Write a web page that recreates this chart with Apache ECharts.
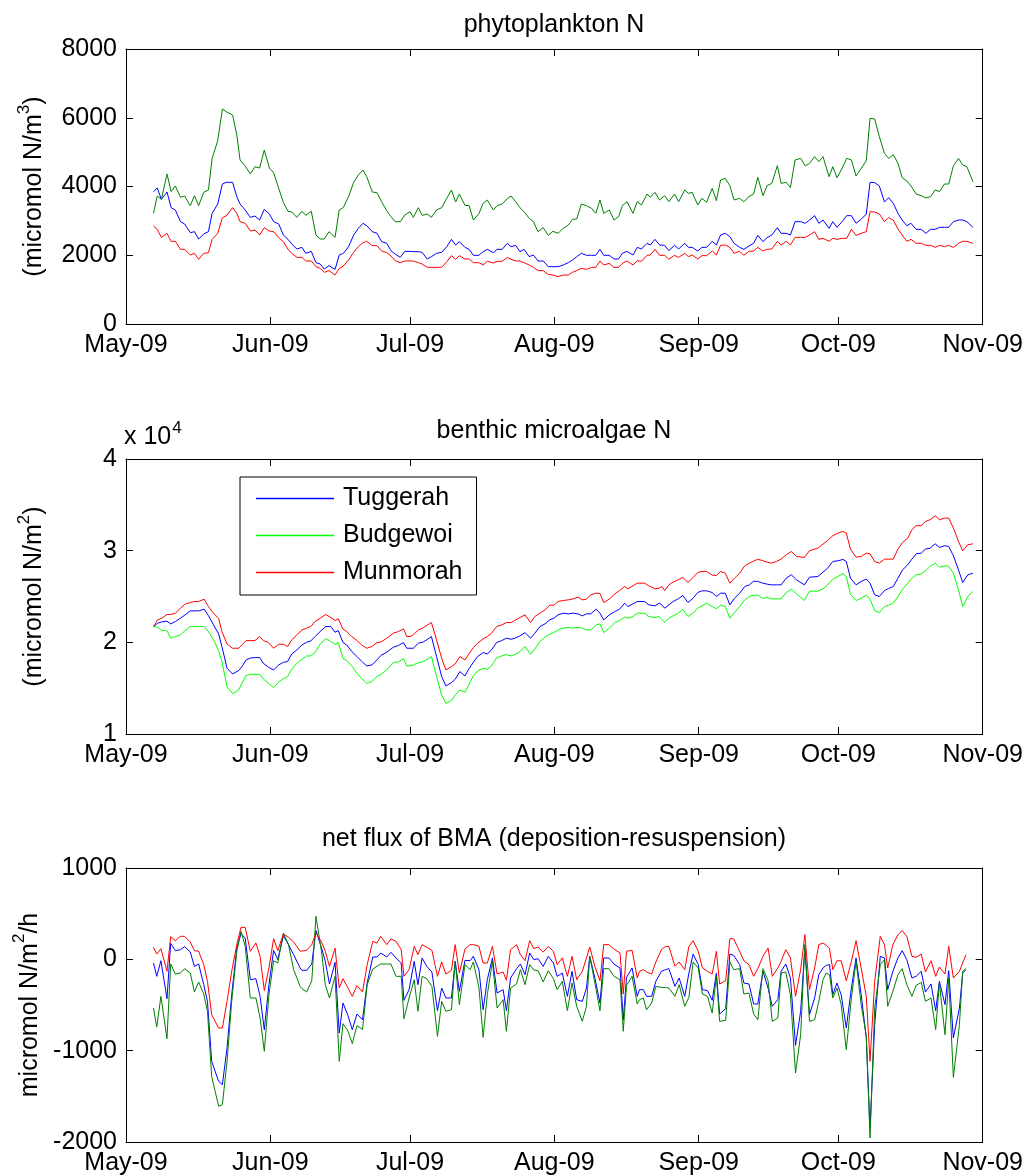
<!DOCTYPE html>
<html>
<head>
<meta charset="utf-8">
<script src="https://cdn.jsdelivr.net/npm/echarts@6/dist/echarts.min.js"></script>
<style>
html,body{margin:0;padding:0;background:#fff;}
#chart{width:1026px;height:1176px;}
</style>
</head>
<body>
<div id="chart"></div>
<script>
// Time axis: days counted from 1 May 2009 (0 = 1 May, 184 = 1 Nov).
const MONTH_DAYS = [0, 31, 61, 92, 123, 153, 184];
const MONTH_LABELS = ['May-09', 'Jun-09', 'Jul-09', 'Aug-09', 'Sep-09', 'Oct-09', 'Nov-09'];
const SITES = ['Tuggerah', 'Budgewoi', 'Munmorah'];

// ---- phytoplankton N (micromol N/m3) ----
const PHYTO_DAYS = [
  5.9,6.7,7.6,8.8,9.7,10.6,11.7,12.6,13.8,14.7,15.6,16.7,17.7,18.5,19.7,20.7,21.5,22.9,23.8,24.5,
  25.6,26.7,27.7,28.7,29.7,30.8,31.7,32.8,33.8,34.8,35.6,36.7,37.8,38.6,39.8,40.8,41.7,42.6,43.6,44.9,
  45.8,46.7,47.8,48.9,49.9,50.9,51.7,52.9,53.9,54.9,56.0,56.9,57.8,58.9,59.9,61.0,
  61.7,62.8,63.6,64.7,65.6,66.7,67.8,68.9,69.9,70.8,71.6,72.8,73.7,74.6,75.8,76.7,77.6,78.9,79.7,80.8,
  81.9,82.7,83.7,84.6,85.5,86.6,87.5,88.5,89.6,90.7,91.7,92.8,93.9,95.0,95.9,96.8,97.8,98.9,100.0,100.9,
  101.8,102.6,103.8,104.8,105.8,106.6,107.6,108.9,109.8,110.7,111.9,112.6,113.6,114.6,115.7,116.6,117.8,118.7,120.0,120.8,
  121.6,122.8,
  123.7,124.7,125.9,126.8,127.7,128.7,129.7,130.6,131.8,132.7,133.8,134.8,135.7,136.8,137.7,138.7,139.9,140.7,141.8,142.7,
  143.7,144.9,145.9,146.8,147.9,148.8,149.7,151.0,151.8,152.7,153.8,154.8,155.8,156.8,157.9,159.0,159.8,160.8,161.8,162.9,
  163.8,164.8,165.8,166.7,167.7,168.6,169.7,170.8,171.8,172.8,173.8,174.7,175.8,176.7,177.7,178.8,179.7,180.6,181.9
];
const PHYTO_TUGGERAH = [
  3850,3956,3627,3840,3384,3316,2977,2909,2657,2686,2473,2618,2686,3219,3491,4073,4121,4121,3704,3491,
  3316,3103,3142,3025,3336,3200,2977,2909,2589,2463,2327,2182,2230,2056,2114,1784,1745,1600,1697,1590,
  2007,2056,2250,2589,2783,2929,2861,2686,2638,2395,2347,2133,2036,1939,2114,2114,
  2104,2104,2085,1891,1959,2056,2085,2250,2463,2298,2395,2230,2172,1998,1998,2104,2172,2075,2172,2172,
  2347,2250,2288,2104,2172,1959,2007,1833,1833,1668,1668,1668,1716,1784,1862,1959,2056,1998,1998,1998,
  2172,1998,1998,1891,1891,2056,2114,2007,2230,2182,2347,2298,2463,2298,2288,2133,2288,2182,2347,2230,
  2230,2124,
  2230,2230,2405,2298,2589,2638,2541,2347,2230,2172,2269,2347,2579,2395,2512,2589,2802,2638,2638,2589,
  2977,2977,2929,3025,3152,2929,3025,2783,2977,2812,2977,3152,3152,2929,3045,3200,4121,4112,4015,3549,
  3675,3510,3219,3025,2861,2929,2754,2754,2638,2754,2754,2812,2812,2812,2977,3025,3025,2977,2812
];
const PHYTO_BUDGEWOI = [
  3219,3724,3627,4364,3850,4015,3685,3724,3442,3733,3442,3830,3898,4819,5333,6255,6177,6080,5498,4771,
  4596,4364,4577,4538,5062,4538,4402,3947,3539,3278,3258,3103,3278,3161,3278,2589,2473,2473,2686,2521,
  3316,3394,3704,4121,4335,4480,4286,3840,3821,3559,3297,3122,2977,2977,3171,3268,
  3103,3384,3161,3200,3103,3316,3384,3656,3898,3549,3782,3452,3442,3025,3210,3510,3607,3316,3442,3491,
  3646,3724,3559,3384,3268,3074,2977,2686,2802,2579,2696,2638,2783,2880,3045,3055,3491,3442,3365,3219,
  3607,3219,3316,3025,3122,3442,3559,3219,3559,3462,3782,3685,3830,3607,3733,3559,3782,3559,3898,3801,
  3830,3462,
  3656,3539,3947,3588,4189,4238,4024,3607,3656,3559,3704,3782,4267,3733,4024,4092,4606,4092,4121,3966,
  4771,4819,4596,4674,4868,4722,4868,4286,4577,4257,4528,4819,4771,4305,4528,4752,5983,5964,5450,4965,
  4819,4926,4674,4257,4160,4015,3782,3733,3665,3704,3898,3850,4073,4073,4596,4819,4626,4577,4141
];
const PHYTO_MUNMORAH = [
  2851,2754,2521,2638,2405,2405,2172,2172,2007,2056,1881,2056,2075,2463,2638,3093,3142,3384,3219,2977,
  2929,2705,2735,2589,2802,2705,2686,2512,2395,2172,2056,1939,1939,1833,1833,1668,1619,1503,1552,1425,
  1619,1687,1862,2085,2250,2366,2405,2279,2279,2124,2075,1978,1842,1784,1833,1833,
  1833,1784,1745,1648,1648,1648,1648,1813,1988,1881,1988,1891,1891,1784,1784,1716,1823,1775,1823,1823,
  1939,1881,1833,1833,1784,1716,1648,1552,1552,1445,1425,1377,1425,1425,1503,1552,1619,1590,1648,1648,
  1833,1716,1765,1648,1648,1765,1833,1716,1842,1823,1998,2007,2172,1998,1998,1881,1998,1939,2056,1959,
  2007,1891,
  1988,1988,2124,2007,2288,2298,2230,2056,2114,1998,2114,2124,2230,2124,2172,2182,2405,2298,2405,2298,
  2521,2521,2521,2589,2686,2463,2492,2405,2492,2463,2492,2492,2754,2579,2638,2686,3268,3258,3200,2977,
  3093,3025,2764,2589,2405,2463,2347,2347,2288,2288,2230,2288,2250,2288,2230,2347,2405,2405,2347
];

// ---- benthic microalgae N (micromol N/m2) ----
const BMA_DAYS = [
  5.9,6.8,7.7,8.8,9.6,10.6,11.7,12.7,13.8,14.7,15.6,16.8,17.7,18.8,19.9,20.6,21.7,22.9,24.2,24.9,
  25.8,26.8,27.7,28.7,29.5,30.6,31.7,32.8,33.8,34.7,35.6,36.7,37.8,38.8,39.7,40.6,41.7,42.9,44.0,44.9,
  45.6,46.6,47.4,48.5,49.6,50.6,51.7,52.8,53.9,54.8,56.0,57.4,58.5,59.6,60.3,61.0,
  61.7,62.8,63.9,65.6,66.7,67.8,68.7,69.9,70.7,71.7,72.8,73.5,74.6,75.5,76.7,77.6,78.5,79.6,80.7,81.7,
  82.7,83.5,84.6,85.7,86.9,87.8,88.9,90.0,91.0,91.9,92.8,93.9,95.0,96.0,97.1,98.0,98.9,99.8,101.0,101.8,
  102.6,103.8,105.0,106.0,107.1,107.8,108.9,109.8,111.4,112.3,113.6,114.5,115.1,115.7,116.6,117.5,118.6,119.6,120.7,121.8,
  122.8,
  123.7,124.7,125.9,126.8,127.7,128.7,129.7,130.7,131.8,132.9,133.9,134.8,135.7,136.8,137.7,138.6,139.7,140.7,141.8,142.9,
  144.0,145.7,146.8,148.6,149.7,150.7,151.8,152.9,154.0,154.7,155.6,156.8,157.9,159.0,159.8,160.8,161.8,162.9,163.8,164.8,
  165.8,166.8,167.9,168.8,169.7,170.8,171.7,172.7,173.8,174.7,175.8,176.7,177.7,178.8,179.7,180.8,181.9
];
const BMA_TUGGERAH = [
  21722,22086,22231,22305,22013,22268,22632,22997,23433,23433,23433,23615,22923,21904,20921,19538,17170,16552,16916,17353,
  18081,18300,18336,18336,17717,17280,16989,17535,17826,17899,18737,19173,19720,20011,20157,20630,21176,21722,21722,21103,
  21285,19974,19720,18991,18445,17936,17426,17535,18081,18591,18919,19465,19647,19974,19356,19356,
  19355,19901,20047,20629,18445,16260,15241,15605,15969,16806,16333,16988,17826,18445,18882,18736,19173,19974,20192,20447,
  20338,20447,20702,21066,20447,20993,21722,22013,22450,22632,22996,23178,23105,23178,23105,22887,23105,23105,23615,23178,
  22450,22996,23360,23615,24270,23906,24198,24452,24452,24088,23979,24270,24088,23724,24088,24452,24744,25108,24343,24817,
  25436,
  25618,25618,25436,24999,25363,25363,24088,24817,25363,26091,26273,26673,26637,26455,26346,26273,26273,26273,27001,27365,
  26819,26273,27110,27183,27657,28093,28822,28894,29040,28822,27001,26273,26637,26892,26455,25181,24999,25654,25872,26091,
  27001,27911,28458,29077,29659,29732,30169,30278,30751,30351,30533,30460,29441,27911,26528,27365,27547
];
const BMA_BUDGEWOI = [
  21722,21649,21285,21285,20448,20630,20812,21285,21722,21722,21722,21722,21176,20266,19101,17899,15168,14404,14804,15532,
  16370,16516,16516,16516,16006,15532,15059,15678,16042,16261,17062,17717,18154,18518,18518,18882,19792,20411,20083,19792,
  19974,18263,18008,17426,16625,16042,15532,15715,16261,16516,16989,17790,17862,18227,17426,17426,
  17535,17789,17899,18445,16260,14258,13347,13639,14258,14804,14549,15241,16333,16879,17170,17061,17425,18299,18518,18663,
  18518,18663,18991,19537,18700,19282,20083,20557,20884,21066,21358,21540,21649,21540,21649,21540,21358,21358,21904,22013,
  21066,21540,22159,22377,22741,22632,22814,23178,23178,22814,22705,22814,22523,22159,22632,22887,23178,23615,22814,23178,
  23724,
  23979,24270,23906,23651,24052,23906,22632,23251,23906,24634,24999,25144,25144,24780,24926,24744,24744,24744,25436,25800,
  25290,24562,25581,25581,25836,26273,26892,27183,27511,27183,25253,24562,24817,25144,24707,23469,23251,23906,24052,24270,
  24999,25800,26455,27001,27365,27474,27802,28275,28640,28203,28348,28275,27547,25727,23906,24999,25545
];
const BMA_MUNMORAH = [
  21722,22450,22632,23033,23033,23179,23725,24162,24344,24453,24453,24708,23907,23179,22596,21176,19829,19356,19356,19720,
  20193,20193,20193,20630,20193,19974,19356,19792,19792,19538,20266,20812,21358,21540,21722,22268,22632,23033,22705,22378,
  22560,21431,21176,20630,20193,19720,19356,19538,19974,20047,20448,20994,21176,21467,20630,20630,
  20811,21358,21612,22159,20265,18263,16988,17352,17644,18445,18081,18627,19428,19901,20375,20629,20993,21722,21904,22159,
  22159,22377,22705,22996,22159,22814,23178,23542,24052,24052,24452,24562,24634,24744,24926,24634,24707,25181,25363,25327,
  24343,24707,25290,25654,26091,25836,26164,26455,26455,26164,25836,25909,26091,25654,26273,26564,26819,27074,26528,27074,
  27620,
  27729,27729,27329,27292,27729,27547,26455,27001,27547,28348,28640,28858,29077,28894,28749,28640,28822,29077,29550,29914,
  29368,29259,29987,30278,30715,31115,31625,31916,32099,31916,30169,29295,29368,29732,29659,28822,28640,29077,29077,29077,
  30169,30897,31370,32281,32718,32718,33191,33373,33810,33373,33555,33555,32463,31006,29987,30642,30751
];

// ---- net flux of BMA, deposition minus resuspension (micromol N/m2/h) ----
const FLUX_DAYS = [
  5.9,6.6,7.5,8.8,9.6,10.6,11.7,12.6,13.8,14.7,15.6,16.7,17.5,18.4,19.9,20.7,21.7,22.7,23.8,24.7,
  25.6,26.7,27.9,28.8,29.7,30.7,31.7,32.6,33.8,34.9,36.0,37.4,
  37.8,38.8,39.9,40.8,42.0,42.8,43.7,44.9,45.8,46.6,47.6,48.6,49.6,50.8,51.8,53.0,53.9,54.7,56.0,56.9,
  58.0,59.1,59.7,60.8,61.9,62.7,63.6,64.6,65.7,66.9,67.8,68.7,69.9,70.7,71.6,72.8,73.9,
  74.6,75.8,76.7,77.6,78.7,79.7,81.0,81.7,82.6,83.9,84.7,85.7,86.7,87.6,88.5,89.6,90.7,91.8,92.6,93.7,
  94.8,95.8,96.8,98.0,98.9,99.6,100.7,101.8,102.6,103.7,104.8,106.1,106.8,107.5,108.7,109.8,110.3,
  111.1,111.8,112.9,113.8,115.0,115.9,116.6,117.9,118.8,120.0,120.9,121.8,122.9,123.8,124.9,125.9,126.8,127.5,128.8,129.7,
  130.5,131.8,132.7,133.8,134.8,135.7,136.8,137.9,138.8,140.0,140.7,141.7,142.7,143.8,144.9,145.8,146.8,
  147.9,148.8,149.7,150.4,151.1,151.8,152.7,153.6,154.7,155.8,156.8,157.9,159.0,159.8,160.8,162.0,162.9,163.6,164.7,165.8,
  166.7,167.7,168.8,169.7,170.8,171.7,172.9,173.9,174.7,175.9,176.7,177.7,179.0,179.7,180.4
];
const FLUX_TUGGERAH = [
  -40,-186,-15,-431,175,95,106,139,80,-77,-51,-277,-460,-1117,-1336,-1372,-971,-387,124,281,
  234,-223,-212,-405,-770,-277,99,-4,259,161,51,-95,
  -120,-120,-51,314,124,-22,-270,-33,-807,-478,-606,-770,-599,-661,-259,26,26,69,26,77,
  15,-40,-449,-332,-22,-277,15,-77,-139,-562,-314,-423,-423,-22,-350,-11,-15,
  33,-113,-551,-223,15,-369,-332,-562,-204,-102,-51,-168,69,-4,7,-77,33,-40,-186,-150,
  -405,-131,-442,-460,-314,33,-204,-478,15,15,-51,-95,-661,-197,-95,-405,-332,
  -332,-405,-405,-241,-131,-113,-102,-296,-204,-405,-150,58,-58,-332,-343,-449,-150,-599,-540,58,
  44,-58,-259,-270,-489,-489,-131,-314,-515,-442,-131,-51,-204,-942,-569,124,-606,
  -423,-168,-95,-66,-58,-387,-259,-387,-752,-314,15,-387,-861,-1850,-715,33,15,-332,-131,15,
  95,-4,-204,-186,-131,-358,-270,-562,-241,-496,-124,-861,-533,-150,-113
];
const FLUX_BUDGEWOI = [
  -533,-741,-405,-869,-51,-161,-150,-102,-150,-358,-248,-380,-569,-1281,-1610,-1591,-1117,-460,88,307,
  142,-423,-423,-642,-1007,-387,-15,-40,288,161,-113,-296,
  -321,-358,-234,471,80,-277,-423,-186,-1117,-704,-777,-923,-726,-767,-277,-106,-77,-51,-51,-51,
  -186,-186,-650,-423,-223,-569,-186,-212,-296,-843,-460,-569,-551,-22,-496,-58,-113,
  -29,-307,-854,-387,-22,-533,-442,-788,-314,-270,-113,-277,-58,-117,-124,-248,-124,-212,-332,-241,
  -562,-259,-515,-679,-515,33,-259,-562,-102,-102,-186,-223,-788,-285,-186,-489,-442,
  -423,-551,-478,-296,-307,-310,-314,-405,-277,-515,-416,-29,-95,-380,-405,-588,-186,-679,-668,-29,
  -113,-102,-380,-369,-599,-661,-102,-234,-679,-642,-150,-139,-387,-1245,-825,161,-679,
  -661,-460,-223,-150,-168,-423,-314,-496,-989,-423,-22,-496,-843,-1956,-533,-58,-4,-515,-350,-168,
  -102,-277,-405,-285,-252,-460,-423,-770,-259,-825,-204,-1292,-715,-131,-102
];
const FLUX_MUNMORAH = [
  131,58,117,-131,248,204,252,252,190,95,88,-58,-241,-606,-752,-752,-460,-131,161,350,
  350,88,179,33,-343,-95,226,95,277,241,190,88,
  77,99,161,288,190,88,-77,124,-314,-212,-307,-405,-288,-358,-58,197,179,252,161,223,
  197,106,-186,-113,142,51,161,131,99,-186,-29,-161,-120,161,-150,113,161,
  161,142,-40,-40,142,-161,-139,-230,106,161,51,-15,204,117,135,80,142,88,-58,15,
  -186,33,-223,-131,15,135,-77,-234,161,161,113,69,-380,88,99,-204,-131,
  -113,-139,-161,-29,106,142,142,-77,-29,-113,142,204,88,-95,-131,-161,88,-270,-234,226,
  226,88,-15,-58,-186,-102,33,124,-186,-95,-22,106,15,-405,-113,270,-332,
  -95,161,179,153,117,-113,-15,-15,-234,-22,204,-95,-405,-1117,-241,252,161,-95,161,270,
  314,252,33,22,58,-139,-15,-186,-84,-161,142,-204,-131,-40,51
];

const FONT = '"Liberation Sans", Arial, Helvetica, sans-serif';
const FS = 25;
const BLACK = '#000';

const pairs = (days, vals) => days.map((d, i) => [d, vals[i]]);

const grids = [
  { left: 126, top: 49, width: 857, height: 275 },
  { left: 126, top: 459, width: 857, height: 275 },
  { left: 126, top: 868, width: 857, height: 274 }
];

const frameLine = { show: true, onZero: false, lineStyle: { color: BLACK, width: 1 } };
const innerTick = { show: true, inside: true, length: 7, lineStyle: { color: BLACK, width: 1 } };

function makeXAxes(gi) {
  const base = {
    type: 'value', gridIndex: gi, min: 0, max: 184,
    axisLine: frameLine,
    axisTick: Object.assign({}, innerTick, { customValues: MONTH_DAYS }),
    splitLine: { show: false }
  };
  return [
    Object.assign({}, base, {
      position: 'bottom',
      axisLabel: {
        show: true, customValues: MONTH_DAYS,
        formatter: v => MONTH_LABELS[MONTH_DAYS.indexOf(v)],
        fontSize: FS, fontFamily: FONT, color: BLACK, margin: 9
      }
    }),
    Object.assign({}, base, { position: 'top', axisLabel: { show: false } })
  ];
}

const nameRich = {
  t: { fontSize: FS, fontFamily: FONT, color: BLACK },
  s: { fontSize: 17, fontFamily: FONT, color: BLACK, padding: [0, 0, 20, 0] }
};

function makeYAxes(gi, min, max, interval, fmt, name) {
  const base = {
    type: 'value', gridIndex: gi, min: min, max: max, interval: interval,
    axisLine: frameLine, axisTick: innerTick, splitLine: { show: false }
  };
  return [
    Object.assign({}, base, {
      position: 'left',
      axisLabel: { fontSize: FS, fontFamily: FONT, color: BLACK, margin: 9, formatter: fmt },
      name: name, nameLocation: 'middle', nameRotate: 90, nameGap: 73,
      nameTextStyle: { fontSize: FS, fontFamily: FONT, color: BLACK, rich: nameRich }
    }),
    Object.assign({}, base, { position: 'right', axisLabel: { show: false } })
  ];
}

const xAxes = [].concat(makeXAxes(0), makeXAxes(1), makeXAxes(2));
const yAxes = [].concat(
  makeYAxes(0, 0, 8000, 2000, v => String(v), '{t|(micromol N/m}{s|3}{t|)}'),
  makeYAxes(1, 10000, 40000, 10000, v => String(v / 10000), '{t|(micromol N/m}{s|2}{t|)}'),
  makeYAxes(2, -2000, 1000, 1000, v => String(v), '{t|micromol N/m}{s|2}{t|/h}')
);

function line(name, panel, color, days, vals) {
  return {
    type: 'line', name: name,
    xAxisIndex: panel * 2, yAxisIndex: panel * 2,
    data: pairs(days, vals),
    symbol: 'none', showSymbol: false,
    lineStyle: { color: color, width: 1 },
    itemStyle: { color: color },
    silent: true, animation: false, z: 2
  };
}

const series = [
  line(SITES[0] + ' phytoplankton', 0, '#0000ff', PHYTO_DAYS, PHYTO_TUGGERAH),
  line(SITES[1] + ' phytoplankton', 0, '#008000', PHYTO_DAYS, PHYTO_BUDGEWOI),
  line(SITES[2] + ' phytoplankton', 0, '#ff0000', PHYTO_DAYS, PHYTO_MUNMORAH),
  line(SITES[0], 1, '#0000ff', BMA_DAYS, BMA_TUGGERAH),
  line(SITES[1], 1, '#00ff00', BMA_DAYS, BMA_BUDGEWOI),
  line(SITES[2], 1, '#ff0000', BMA_DAYS, BMA_MUNMORAH),
  line(SITES[0] + ' flux', 2, '#0000ff', FLUX_DAYS, FLUX_TUGGERAH),
  line(SITES[1] + ' flux', 2, '#008000', FLUX_DAYS, FLUX_BUDGEWOI),
  line(SITES[2] + ' flux', 2, '#ff0000', FLUX_DAYS, FLUX_MUNMORAH)
];

function titleText(text, y) {
  return {
    type: 'text', x: 554, y: y, silent: true,
    style: { text: text, fontSize: FS, fontFamily: FONT, fill: BLACK, align: 'center', verticalAlign: 'middle' }
  };
}

const chart = echarts.init(document.getElementById('chart'), null, { renderer: 'canvas' });
chart.setOption({
  backgroundColor: '#fff',
  animation: false,
  grid: grids,
  xAxis: xAxes,
  yAxis: yAxes,
  legend: {
    data: SITES,
    orient: 'vertical',
    left: 240, top: 477,
    padding: [9, 14, 10, 16],
    itemGap: 12,
    icon: 'rect',
    itemWidth: 78, itemHeight: 1.4,
    backgroundColor: '#fff',
    borderColor: BLACK, borderWidth: 1, borderRadius: 0,
    selectedMode: false,
    textStyle: { fontSize: FS, fontFamily: FONT, color: BLACK, padding: [0, 0, 0, 4] }
  },
  graphic: [
    titleText('phytoplankton N', 25),
    titleText('benthic microalgae N', 431),
    titleText('net flux of BMA (deposition-resuspension)', 839),
    {
      type: 'text', x: 124, y: 437, silent: true,
      style: {
        text: '{b|x 10}{s|4}', verticalAlign: 'middle', align: 'left',
        rich: {
          b: { fontSize: FS, fontFamily: FONT, fill: BLACK },
          s: { fontSize: 17, fontFamily: FONT, fill: BLACK, padding: [0, 0, 18, 1] }
        }
      }
    }
  ],
  series: series
});
</script>
</body>
</html>
